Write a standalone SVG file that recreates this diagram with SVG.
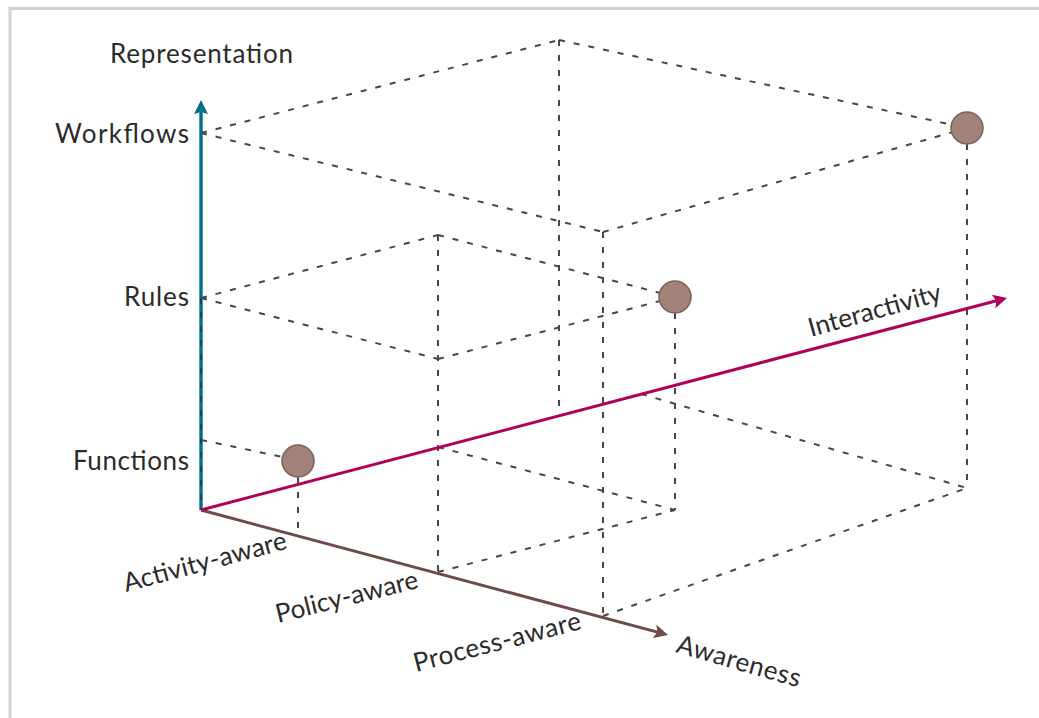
<svg xmlns="http://www.w3.org/2000/svg" width="1039" height="718" viewBox="0 0 1039 718">
<style>
.frame{fill:none;stroke:#d9cfcb;stroke-width:3}
.dash{fill:none;stroke:#474747;stroke-width:2;stroke-dasharray:6 9}
.lbl{font-family:Lato,"Open Sans","Liberation Sans",sans-serif;font-size:26px;fill:#2b2b2b}
.pt{fill:#a08278;stroke:#7d5f5b;stroke-width:1.5}
</style>
<defs>
<marker id="ahTeal" markerUnits="userSpaceOnUse" viewBox="0 0 14 14" refX="6" refY="7" markerWidth="14" markerHeight="14" orient="auto"><path d="M0,0 L14,7 L0,14 L2,7 z" fill="#00708f"/></marker>
<marker id="ahMag" markerUnits="userSpaceOnUse" viewBox="0 0 14 14" refX="6" refY="7" markerWidth="14" markerHeight="14" orient="auto"><path d="M0,0 L14,7 L0,14 L3,7 z" fill="#b0005a"/></marker>
<marker id="ahBrown" markerUnits="userSpaceOnUse" viewBox="0 0 14 14" refX="6" refY="7" markerWidth="14" markerHeight="14" orient="auto"><path d="M0,0 L14,7 L0,14 L3,7 z" fill="#6e4b4a"/></marker>
</defs>
<rect width="1039" height="718" fill="#ffffff"/>
<rect class="frame" x="10" y="8.5" width="1040" height="720"/>

<g id="connectors">
  <!-- Workflows level -->
  <line class="dash" x1="201" y1="133" x2="559" y2="40"/>
  <line class="dash" x1="201" y1="133" x2="603" y2="232"/>
  <line class="dash" x1="559" y1="40" x2="953" y2="125"/>
  <line class="dash" x1="603" y1="232" x2="953" y2="132"/>
  <line class="dash" x1="559" y1="40" x2="559" y2="414"/>
  <line class="dash" x1="603" y1="232" x2="603" y2="616"/>
  <line class="dash" x1="967" y1="144" x2="967" y2="488"/>
  <line class="dash" x1="603" y1="616" x2="967" y2="488"/>
  <line class="dash" x1="641" y1="394" x2="967" y2="488"/>
  <!-- Rules level -->
  <line class="dash" x1="201" y1="298" x2="438" y2="235"/>
  <line class="dash" x1="201" y1="298" x2="438" y2="359"/>
  <line class="dash" x1="438" y1="235" x2="660" y2="293"/>
  <line class="dash" x1="438" y1="359" x2="660" y2="301"/>
  <line class="dash" x1="438" y1="235" x2="438" y2="572"/>
  <line class="dash" x1="675" y1="313" x2="675" y2="510"/>
  <line class="dash" x1="438" y1="447" x2="675" y2="510"/>
  <line class="dash" x1="438" y1="572" x2="675" y2="510"/>
  <!-- Functions level -->
  <line class="dash" x1="201" y1="440" x2="283" y2="457"/>
  <line class="dash" x1="298" y1="477" x2="298" y2="533"/>
  <!-- Axes -->
  <line id="axis-representation" x1="201" y1="510" x2="201" y2="108" stroke="#00708f" stroke-width="3.4" marker-end="url(#ahTeal)"/>
  <line x1="201" y1="298" x2="201" y2="510" stroke="#1f3a46" stroke-width="1.6" stroke-dasharray="6 8"/>
  <line id="axis-awareness" x1="201" y1="510" x2="660.3" y2="632.9" stroke="#6e4b4a" stroke-width="3" marker-end="url(#ahBrown)"/>
  <line id="axis-interactivity" x1="201" y1="510" x2="999.3" y2="300" stroke="#b0005a" stroke-width="3" marker-end="url(#ahMag)"/>
</g>

<g id="node-functions-activity"><circle class="pt" cx="298" cy="461" r="16"/></g>
<g id="node-rules-policy"><circle class="pt" cx="675" cy="297" r="16"/></g>
<g id="node-workflows-process"><circle class="pt" cx="967" cy="128" r="16"/></g>

<g id="labels">
  <text class="lbl" x="110" y="63" textLength="183">Representation</text>
  <text class="lbl" x="189" y="143" text-anchor="end" textLength="134">Workflows</text>
  <text class="lbl" x="189" y="306" text-anchor="end" textLength="65">Rules</text>
  <text class="lbl" x="189" y="470" text-anchor="end" textLength="116">Functions</text>
  <text class="lbl" transform="translate(126,592) rotate(-15)" textLength="168">Activity-aware</text>
  <text class="lbl" transform="translate(278,623) rotate(-14)" textLength="146">Policy-aware</text>
  <text class="lbl" transform="translate(416,672) rotate(-14.5)" textLength="172">Process-aware</text>
  <text class="lbl" transform="translate(675,652) rotate(16)" textLength="128">Awareness</text>
  <text class="lbl" transform="translate(811,337) rotate(-15.5)" textLength="137">Interactivity</text>
</g>
</svg>
